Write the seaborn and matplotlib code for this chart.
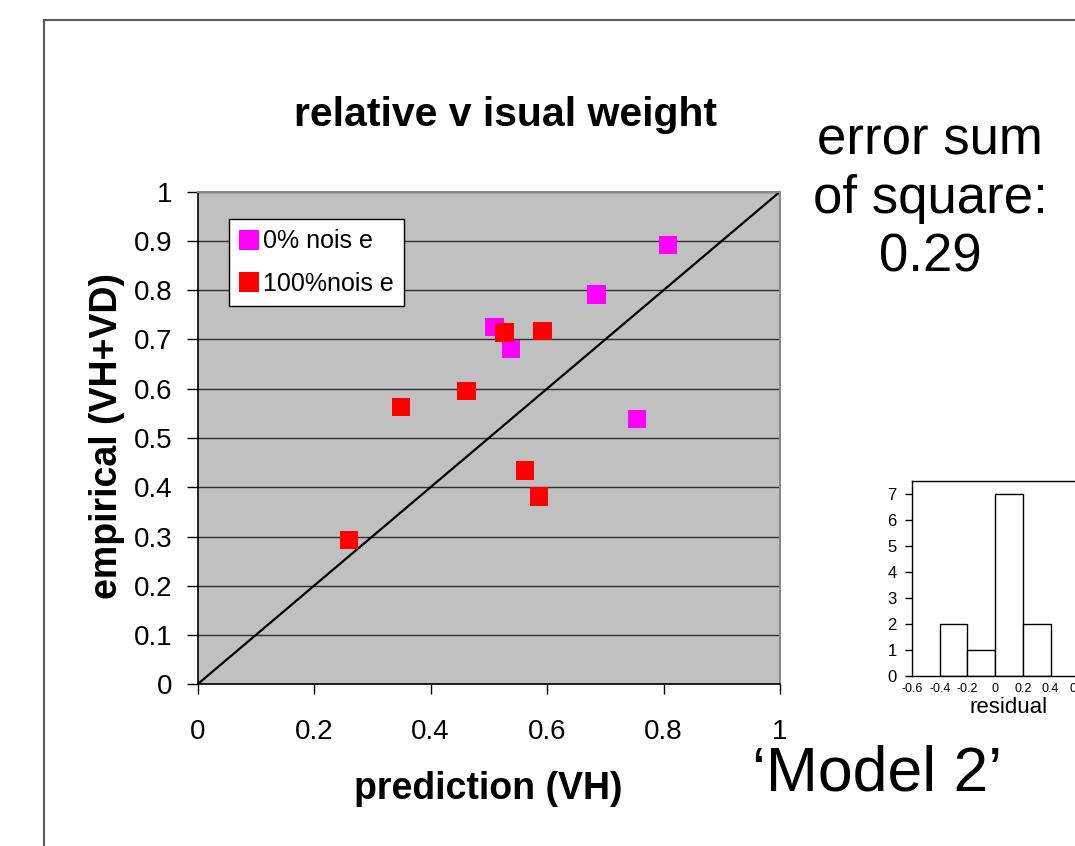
import matplotlib
matplotlib.use("Agg")
import matplotlib.pyplot as plt
from matplotlib.lines import Line2D
import seaborn as sns
import pandas as pd

# ---- data ----
conditions = ["0% nois e", "100%nois e"]
pred_0 = [0.808, 0.685, 0.510, 0.538, 0.754]
emp_0 = [0.892, 0.791, 0.725, 0.681, 0.539]
pred_100 = [0.527, 0.592, 0.462, 0.349, 0.562, 0.586, 0.260]
emp_100 = [0.714, 0.717, 0.596, 0.563, 0.434, 0.381, 0.293]
identity = [0, 1]
x_ticks = [0, 0.2, 0.4, 0.6, 0.8, 1]
y_ticks = [0, 0.1, 0.2, 0.3, 0.4, 0.5, 0.6, 0.7, 0.8, 0.9, 1]
hist_edges = [-0.4, -0.2, 0.0, 0.2, 0.4]
hist_counts = [2, 1, 7, 2]
hist_xticks = [-0.6, -0.4, -0.2, 0, 0.2, 0.4, 0.6]
hist_yticks = [0, 1, 2, 3, 4, 5, 6, 7]
title = "relative v isual weight"
xlabel = "prediction (VH)"
ylabel = "empirical (VH+VD)"
sse_text = "error sum\nof square:\n0.29"
model_text = "\u2018Model 2\u2019"
hist_xlabel = "residual"

sns.set_style("white")
plt.rcParams["font.family"] = ["Liberation Sans", "DejaVu Sans"]
plt.rcParams["text.color"] = "black"
plt.rcParams["axes.labelcolor"] = "black"
plt.rcParams["xtick.color"] = "black"
plt.rcParams["ytick.color"] = "black"

W, H = 1075, 846
fig = plt.figure(figsize=(W / 100, H / 100), dpi=100)

df = pd.DataFrame({
    "pred": pred_0 + pred_100,
    "emp": emp_0 + emp_100,
    "cond": [conditions[0]] * len(pred_0) + [conditions[1]] * len(pred_100),
})

# ---- main axes ----
ax = fig.add_axes([197.5 / W, (H - 684.3) / H, 582.5 / W, 492.6 / H])
ax.set_facecolor("#C0C0C0")
ax.set_xlim(0, 1)
ax.set_ylim(0, 1)
ax.set_axisbelow(True)
ax.yaxis.grid(True, color="#303030", linewidth=1.0)
ax.xaxis.grid(False)

sns.lineplot(x=identity, y=identity, color="black", linewidth=1.6, ax=ax, zorder=2)
sns.scatterplot(data=df, x="pred", y="emp", hue="cond",
                palette={conditions[0]: "#FF00FF", conditions[1]: "#FF0000"},
                marker="s", s=175, linewidth=0, ax=ax, zorder=3)

ax.set_xticks(x_ticks)
ax.set_yticks(y_ticks)
ax.set_xticklabels([f"{v:g}" for v in x_ticks])
ax.set_yticklabels([f"{v:g}" for v in y_ticks])
ax.tick_params(axis="x", direction="out", length=7, width=1, color="black",
               labelsize=20, labelcolor="black", pad=18, bottom=True)
ax.tick_params(axis="y", direction="out", length=8, width=1, color="black",
               labelsize=20, labelcolor="black", pad=10, left=True)

for s in ["left", "bottom"]:
    ax.spines[s].set_color("black")
    ax.spines[s].set_linewidth(1.2)
for s in ["top", "right"]:
    ax.spines[s].set_color("#8a8a8a")
    ax.spines[s].set_linewidth(1.5)

ax.set_xlabel(xlabel, fontsize=27, fontweight="bold", color="black")
ax.set_ylabel(ylabel, fontsize=27, fontweight="bold", color="black")
ax.xaxis.set_label_coords(0.5, -0.177)
ax.yaxis.set_label_coords(-0.125, 0.505)

leg = ax.legend(loc="upper left", bbox_to_anchor=(0.054, 0.945), borderaxespad=0,
                fontsize=18, frameon=True, fancybox=False, framealpha=1,
                edgecolor="black", handlelength=0.75, handletextpad=0.2,
                borderpad=0.42, labelspacing=0.74, markerscale=1.05)
leg.get_frame().set_linewidth(1.0)
for t in leg.get_texts():
    t.set_color("black")

fig.text(505 / W, 1 - 126 / H, title, fontsize=29.5, fontweight="bold",
         ha="center", va="baseline", color="black")

fig.text(930 / W, 1 - 199 / H, sse_text, fontsize=38, ha="center", va="center",
         linespacing=1.23, multialignment="center", color="black")
fig.text(877 / W, 1 - 790 / H, model_text, fontsize=45, ha="center", va="baseline",
         color="black")

# ---- inset histogram ----
ax2 = fig.add_axes([912 / W, (H - 675.7) / H, 1.4 * 138.5 / W, (675.7 - 481) / H])
ax2.set_facecolor("white")
hist_centers = [(a + b) / 2 for a, b in zip(hist_edges[:-1], hist_edges[1:])]
sns.histplot(x=hist_centers, weights=hist_counts, bins=hist_edges, ax=ax2,
             color="white", edgecolor="black", linewidth=1.0, alpha=1)
ax2.set_xlim(-0.6, 0.8)
ax2.set_ylim(0, 7.5)
ax2.set_xticks(hist_xticks)
ax2.set_xticklabels([f"{v:g}" for v in hist_xticks])
ax2.set_yticks(hist_yticks)
ax2.tick_params(axis="y", direction="out", length=5, width=1, labelsize=12,
                labelcolor="black", pad=6, left=True)
ax2.tick_params(axis="x", length=0, labelsize=9, labelcolor="black", pad=5)
ax2.set_ylabel("")
ax2.set_xlabel(hist_xlabel, fontsize=16, labelpad=2, color="black")
for s in ["left", "bottom", "top"]:
    ax2.spines[s].set_color("black")
    ax2.spines[s].set_linewidth(1.0)
ax2.spines["right"].set_visible(False)

# ---- slide frame lines ----
fig.add_artist(Line2D([43.5 / W, 43.5 / W], [0, 1 - 20 / H], transform=fig.transFigure,
                      color="#5f5a55", linewidth=1.5))
fig.add_artist(Line2D([43.5 / W, 1], [1 - 20 / H, 1 - 20 / H], transform=fig.transFigure,
                      color="#5f5a55", linewidth=1.5))

fig.savefig("out.png", dpi=100)
